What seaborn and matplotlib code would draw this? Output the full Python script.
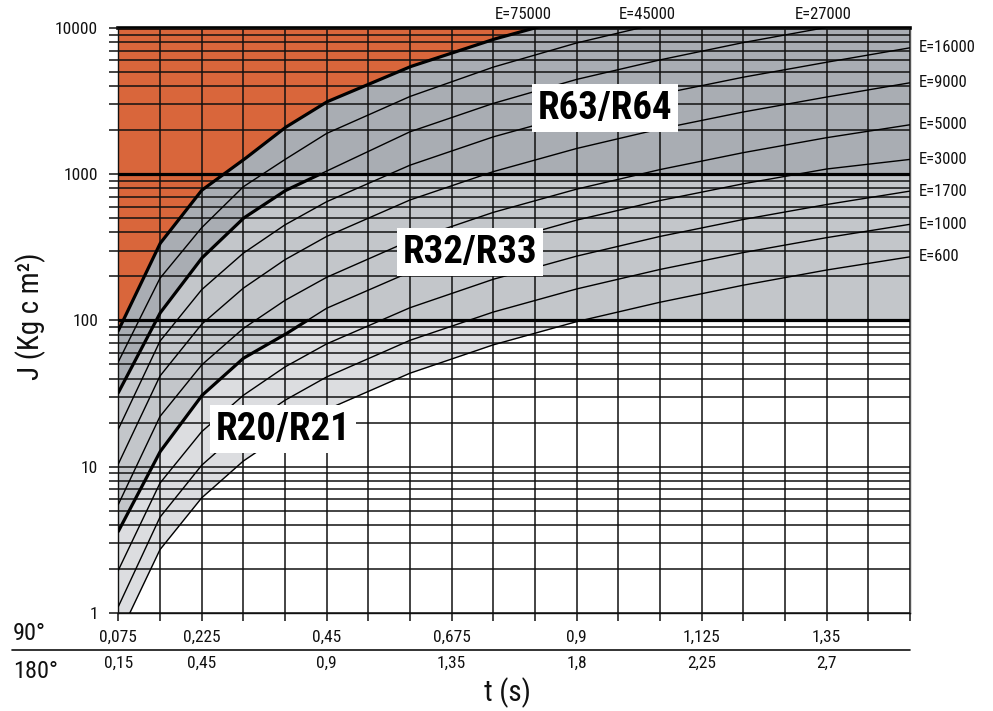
import numpy as np
import pandas as pd
import matplotlib
matplotlib.use("Agg")
import matplotlib.pyplot as plt
import seaborn as sns
from matplotlib import transforms, font_manager
from matplotlib.lines import Line2D
from matplotlib.ticker import FixedLocator, NullFormatter, LogLocator

# ---------------- data ----------------
T = [0.075, 0.15, 0.225, 0.3, 0.375, 0.45, 0.6, 0.75, 0.9, 1.05, 1.2, 1.35, 1.5]
J_E600 = [0.68, 2.7, 6.1, 10.9, 17, 24.5, 43.5, 68, 98, 133, 174, 221, 272]
J_E1000 = [1.1, 4.5, 10.2, 18.2, 28.4, 41, 73, 114, 164, 223, 291, 368, 454]
J_E1700 = [1.95, 7.7, 17.3, 30.7, 48, 69, 122, 191, 275, 375, 490, 620, 766]
J_E3000 = [3.6, 12.6, 30.5, 55, 80, 121, 214, 335, 485, 660, 860, 1085, 1262]
J_E5000 = [5.5, 22, 49.5, 88, 137, 197, 351, 548, 790, 1075, 1404, 1777, 2178]
J_E9000 = [10.4, 41.6, 94, 166, 260, 375, 666, 1041, 1499, 2040, 2664, 3372, 4220]
J_E16000 = [18, 72, 162, 288, 450, 648, 1152, 1800, 2592, 3528, 4608, 5832, 7320]
J_E27000 = [32, 112, 266, 499, 770, 1050, 1950, 3050, 4450, 6050, 7950, 10100, 12500]
J_E45000 = [52, 194, 430, 820, 1260, 1900, 3400, 5400, 7900, 10800, None, None, None]
J_E75000 = [85, 335, 775, 1250, 2080, 3120, 5430, 8360, 12000, None, None, None, None]

energies = [600, 1000, 1700, 3000, 5000, 9000, 16000, 27000, 45000, 75000]
curves = [J_E600, J_E1000, J_E1700, J_E3000, J_E5000, J_E9000,
          J_E16000, J_E27000, J_E45000, J_E75000]

grid_t = [0.075, 0.15, 0.225, 0.3, 0.375, 0.45, 0.525, 0.6, 0.675, 0.75,
          0.825, 0.9, 0.975, 1.05, 1.125, 1.2, 1.275, 1.35, 1.425, 1.5]
ticks_90 = [0.075, 0.225, 0.45, 0.675, 0.9, 1.125, 1.35]
labels_90 = ["0,075", "0,225", "0,45", "0,675", "0,9", "1,125", "1,35"]
labels_180 = ["0,15", "0,45", "0,9", "1,35", "1,8", "2,25", "2,7"]
y_ticks = [1, 10, 100, 1000, 10000]
y_labels = ["1", "10", "100", "1000", "10000"]
right_label_E = [16000, 9000, 5000, 3000, 1700, 1000, 600]
top_label_E = [75000, 45000, 27000]
region_names = ["R63/R64", "R32/R33", "R20/R21"]

# ---------------- style ----------------
ORANGE = "#d9663b"
DARK = "#a9adb3"
MID = "#c3c6ca"
LIGHT = "#dcdde0"

sns.set_theme(style="ticks")

# pick a condensed sans family if one is installed
fonts = font_manager.fontManager.ttflist
names = {f.name for f in fonts}
stretch = "normal"
family = None
for cand in ["Liberation Sans Narrow", "Roboto Condensed", "Open Sans Condensed",
             "Noto Sans Condensed", "Arial Narrow"]:
    if cand in names:
        family = cand
        break
if family is None:
    cond = [f for f in fonts if f.name == "DejaVu Sans" and
            ("ondensed" in f.fname or str(f.stretch) in ("condensed", "semi-condensed"))]
    if cond:
        family = "DejaVu Sans"
        stretch = "condensed"
if family is None:
    cond = [f for f in fonts if str(f.stretch) in ("condensed", "semi-condensed", "extra-condensed")]
    if cond:
        family = cond[0].name
        stretch = str(cond[0].stretch)
if family is None:
    family = "Roboto" if "Roboto" in names else "Liberation Sans"

plt.rcParams["font.family"] = [family, "DejaVu Sans"]
plt.rcParams["font.stretch"] = stretch
plt.rcParams["axes.linewidth"] = 1.0

W, H = 993, 711
fig = plt.figure(figsize=(W / 100, H / 100), dpi=100)
x0, x1, ytop, ybot = 118.3, 910.0, 28.0, 612.7
ax = fig.add_axes([x0 / W, 1 - ybot / H, (x1 - x0) / W, (ybot - ytop) / H])
ax.set_yscale("log")
ax.set_xlim(T[0], T[-1])
ax.set_ylim(1, 10000)

# long-form data
rows = []
for E, vals in zip(energies, curves):
    for t, j in zip(T, vals):
        if j is not None:
            rows.append({"E": E, "t": t, "J": j})
df = pd.DataFrame(rows)

tf = np.linspace(T[0], T[-1], 4000)
Tarr = np.array(T)


def dense(vals):
    v = np.array([np.nan if x is None else x for x in vals], float)
    m = np.isfinite(v)
    lv = np.interp(tf, Tarr[m], np.log10(v[m]), right=np.nan)
    return 10 ** lv


d600 = dense(J_E600)
d3000 = dense(J_E3000)
d27000 = dense(J_E27000)
d75000 = dense(J_E75000)

# shaded regions
ax.fill_between(tf, np.minimum(d27000, 1000), 1e5, color=DARK, lw=0, zorder=0.5)
ax.fill_between(tf, np.minimum(d3000, 100), np.minimum(d27000, 1000), color=MID, lw=0, zorder=0.6)
ax.fill_between(tf, np.minimum(d600, 100), np.minimum(d3000, 100), color=LIGHT, lw=0, zorder=0.6)
m75 = np.isfinite(d75000)
ax.fill_between(tf[m75], d75000[m75], 1e5, color=ORANGE, lw=0, zorder=0.7)

# grid
ax.xaxis.set_major_locator(FixedLocator(grid_t))
ax.set_xticklabels([labels_90[ticks_90.index(g)] if g in ticks_90 else "" for g in grid_t])
ax.yaxis.set_major_locator(FixedLocator(y_ticks))
ax.set_yticklabels(y_labels)
ax.yaxis.set_minor_locator(LogLocator(base=10, subs=list(range(2, 10))))
ax.yaxis.set_minor_formatter(NullFormatter())
ax.set_axisbelow(False)
ax.grid(which="both", axis="both", color="#111111", lw=1.1)

ax.tick_params(axis="y", which="both", direction="out", length=6.5, width=1.1,
               color="#111111", pad=8, labelsize=12.5)
ax.tick_params(axis="x", which="major", direction="out", length=6, width=1.1,
               color="#111111", pad=6.5, labelsize=12.5)
for lab in ax.get_xticklabels() + ax.get_yticklabels():
    lab.set_color("#111111")

# curves
sns.lineplot(data=df, x="t", y="J", units="E", estimator=None, color="black",
             linewidth=1.0, sort=False, legend=False, ax=ax, zorder=3)
ax.set_xlabel("")
ax.set_ylabel("")

# thick envelope curves and band limits
ax.plot(tf[m75], d75000[m75], color="black", lw=2.3, zorder=3.5)
mk = d27000 <= 1000
ax.plot(tf[mk], d27000[mk], color="black", lw=2.3, zorder=3.5)
mk = d3000 <= 100
ax.plot(tf[mk], d3000[mk], color="black", lw=2.3, zorder=3.5)
for lim in [100, 1000]:
    ax.axhline(lim, color="black", lw=2.3, zorder=3.5)

for s in ["left", "bottom"]:
    ax.spines[s].set_color("#111111")
ax.spines["top"].set_linewidth(2.6)
ax.spines["top"].set_color("black")
ax.spines["right"].set_color("#555555")

# E labels on right edge
for E in right_label_E:
    j_end = curves[energies.index(E)][-1]
    ax.annotate(f"E={E}", xy=(T[-1], j_end), xytext=(6.5, 0), textcoords="offset points",
                ha="left", va="center", fontsize=12, color="#111111", annotation_clip=False)

# E labels on top edge (near where each curve leaves the chart)
top_label_shift = [-0.02, 0.014, 0.0]
for E, dt in zip(top_label_E, top_label_shift):
    vals = curves[energies.index(E)]
    v = np.array([np.nan if x is None else x for x in vals], float)
    m = np.isfinite(v)
    t_cross = np.interp(4.0, np.log10(v[m]), Tarr[m]) + dt
    ax.annotate(f"E={E}", xy=(t_cross, 10000), xytext=(0, 10), textcoords="offset points",
                ha="center", va="center", fontsize=12, color="#111111", annotation_clip=False)

# region labels
region_pos = [(0.951, 2830), (0.708, 293), (0.371, 18.05)]
for name, (tx, jy) in zip(region_names, region_pos):
    ax.text(tx, jy, name, fontsize=28, fontweight="bold", ha="center", va="center",
            color="black", zorder=6,
            bbox=dict(boxstyle="square,pad=0.14", fc="white", ec="none"))

# 180 degree row
trans = transforms.blended_transform_factory(ax.transData, ax.transAxes)
for t, lab in zip(ticks_90, labels_180):
    ax.text(t, -0.0865, lab, transform=trans, ha="center", va="center",
            fontsize=12.5, color="#111111", clip_on=False)

fig.text(13 / W, 1 - 633.5 / H, "90°", ha="left", va="center", fontsize=17.5, color="#111111")
fig.text(13 / W, 1 - 671.5 / H, "180°", ha="left", va="center", fontsize=17.5, color="#111111")
fig.add_artist(Line2D([12 / W, 910 / W], [1 - 650 / H, 1 - 650 / H], color="#111111", lw=1.2))

fig.text(31 / W, 1 - 316 / H, "J (Kg c m²)", rotation=90, ha="center", va="center",
         fontsize=21, color="#111111")
fig.text(507 / W, 1 - 693 / H, "t (s)", ha="center", va="center", fontsize=21, color="#111111")

fig.savefig("out.png", dpi=100, facecolor="white")
